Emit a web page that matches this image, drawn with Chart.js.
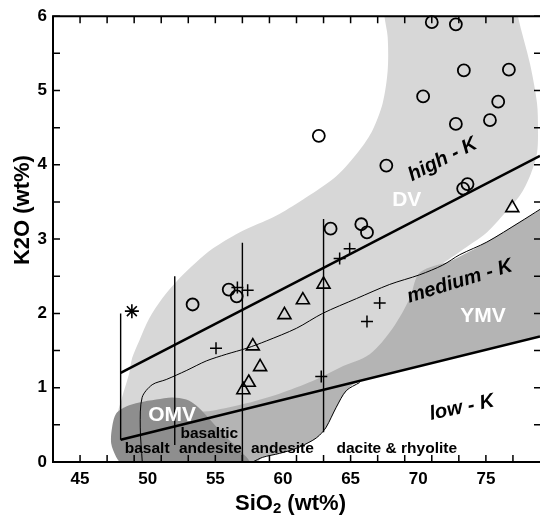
<!DOCTYPE html>
<html><head><meta charset="utf-8">
<script src="https://cdn.jsdelivr.net/npm/chart.js@4.4.1/dist/chart.umd.min.js"></script>
<style>html,body{margin:0;padding:0;background:#fff;overflow:hidden}#wrap{width:540px;height:517px;position:relative}canvas{display:block}</style>
</head><body><div id="wrap"><canvas id="c" width="540" height="517"></canvas></div>
<script>
// ---- tick labels / tick marks ----
const xTickLabels = [45, 50, 55, 60, 65, 70, 75];
const yTickLabels = [0, 1, 2, 3, 4, 5, 6];
const xMinorTicks = [45, 47, 49, 51, 53, 55, 57, 59, 61, 63, 65, 67, 69, 71, 73, 75, 77];
const yMinorTicks = [0, 0.5, 1, 1.5, 2, 2.5, 3, 3.5, 4, 4.5, 5, 5.5, 6];

// ---- samples (SiO2, K2O) ----
const circles = [
  {x:71.0,y:5.92},{x:72.78,y:5.89},{x:73.37,y:5.27},{x:76.7,y:5.28},{x:70.36,y:4.92},
  {x:75.91,y:4.85},{x:75.3,y:4.6},{x:72.78,y:4.55},{x:62.65,y:4.39},{x:67.64,y:3.99},
  {x:73.32,y:3.68},{x:73.64,y:3.74},{x:63.52,y:3.14},{x:65.79,y:3.2},{x:66.21,y:3.09},
  {x:53.32,y:2.12},{x:55.99,y:2.32},{x:56.58,y:2.23}
];
const triangles = [
  {x:76.95,y:3.42},{x:57.77,y:1.56},{x:58.31,y:1.28},{x:57.47,y:1.07},{x:57.07,y:0.97},
  {x:60.11,y:1.98},{x:61.47,y:2.18},{x:63.0,y:2.39}
];
const pluses = [
  {x:55.05,y:1.53},{x:56.63,y:2.35},{x:57.39,y:2.31},{x:67.15,y:2.14},{x:66.21,y:1.89},
  {x:62.83,y:1.15},{x:64.93,y:2.87},{x:64.19,y:2.74}
];
const asterisks = [{x:48.83,y:2.03}];

// ---- classification lines ----
const highKLine = [{x:48,y:1.2},{x:79,y:4.12}];
const lowKLine = [{x:48,y:0.3},{x:79,y:1.69}];
const divisionSiO2 = [48, 52, 57, 63];
const divisionBottom = [0.3, 0.23, 0, 0.4];
const divisionTop = [2.0, 2.5, 2.95, 3.27];

const thinCurve = [
  {x:49.6,y:0},{x:49.45,y:0.47},{x:49.59,y:0.87},{x:50.33,y:1.04},{x:51.37,y:1.11},
  {x:52.85,y:1.23},{x:54.33,y:1.36},{x:55.81,y:1.45},{x:57.3,y:1.53},{x:58.78,y:1.63},
  {x:61.0,y:1.8},{x:62.93,y:2.0},{x:65.44,y:2.2},{x:67.89,y:2.39},{x:70.11,y:2.52},
  {x:71.81,y:2.65},{x:73.07,y:2.79},{x:75.07,y:2.96},{x:77.52,y:3.23},{x:79,y:3.4}
];
const ymvLowerEdge = [
  {x:57.76,y:0.0},{x:58.5,y:0.063},{x:59.74,y:0.116},{x:60.98,y:0.183},{x:62.21,y:0.293},
  {x:62.7,y:0.36},{x:63.2,y:0.47},{x:63.94,y:0.737},{x:64.68,y:0.96},{x:65.67,y:1.07}
];

// ---- fields ----
const dvField = [
  {x:67.4,y:6.3},{x:67.5,y:6.0},{x:67.74,y:5.72},{x:67.74,y:5.27},{x:67.37,y:4.83},
  {x:66.63,y:4.47},{x:65.67,y:4.2},{x:63.96,y:3.85},{x:61.96,y:3.59},{x:59.96,y:3.36},
  {x:59.0,y:3.27},{x:56.78,y:3.09},{x:54.78,y:2.87},{x:53.59,y:2.69},{x:52.33,y:2.47},
  {x:51.07,y:2.2},{x:50.11,y:1.93},{x:49.37,y:1.63},{x:48.85,y:1.4},{x:48.63,y:1.19},
  {x:48.11,y:0.87},{x:47.74,y:0.56},{x:48.5,y:0.35},{x:50.5,y:0.3},{x:53.8,y:0.45},
  {x:54.78,y:0.63},{x:57.3,y:0.72},{x:59.74,y:0.85},{x:62.19,y:1.03},{x:64.19,y:1.2},
  {x:66.41,y:1.41},{x:68.11,y:1.76},{x:69.37,y:2.16},{x:71.37,y:2.6},{x:73.07,y:2.83},
  {x:75.07,y:3.09},{x:76.26,y:3.32},{x:77.52,y:3.59},{x:78.26,y:3.85},{x:78.78,y:4.16},
  {x:78.85,y:4.47},{x:78.78,y:4.83},{x:78.26,y:5.36},{x:77.37,y:6.0},{x:77.2,y:6.3}
];
const ymvField = [
  {x:79.5,y:3.45},{x:77.52,y:3.23},{x:75.07,y:2.96},{x:72.56,y:2.72},{x:70.11,y:2.55},
  {x:69.37,y:2.2},{x:68.11,y:1.8},{x:66.41,y:1.45},{x:64.19,y:1.27},{x:62.19,y:1.09},
  {x:59.74,y:0.92},{x:57.3,y:0.79},{x:54.78,y:0.69},{x:52.33,y:0.63},{x:51.59,y:0.29},
  {x:52.3,y:-0.05},{x:57.7,y:-0.05},{x:58.5,y:0.063},{x:59.74,y:0.116},{x:60.98,y:0.183},
  {x:62.21,y:0.293},{x:62.7,y:0.36},{x:63.2,y:0.47},{x:63.94,y:0.737},{x:64.68,y:0.96},
  {x:65.67,y:1.09},{x:79.5,y:1.71}
];
const omvField = [
  {x:48.04,y:-0.03},{x:47.67,y:0.067},{x:47.3,y:0.253},{x:47.37,y:0.467},{x:47.67,y:0.653},
  {x:48.41,y:0.747},{x:49.37,y:0.8},{x:50.63,y:0.84},{x:51.81,y:0.867},{x:52.85,y:0.84},
  {x:53.59,y:0.76},{x:54.33,y:0.627},{x:55.52,y:0.387},{x:56.56,y:0.2},{x:57.3,y:0.067},
  {x:57.67,y:-0.03}
];

// ---- text annotations (anchored in data units) ----
const annotationText = ['high - K','DV','medium - K','YMV','low - K','OMV','basalt','basaltic','andesite','andesite','dacite & rhyolite'];
const annotationSiO2 = [71.81, 69.15, 73.07, 74.78, 73.22, 51.81, 49.96, 54.56, 54.63, 59.96, 68.41];
const annotationK2O  = [4.07, 3.52, 2.43, 1.96, 0.73, 0.627, 0.173, 0.387, 0.173, 0.173, 0.173];
const annotationKind = ['field','name','field','name','field','name','rock','rock','rock','rock','rock'];
const annotationAngle = [-27, 0, -17, 0, -12, 0, 0, 0, 0, 0, 0];

const FONT = '"Liberation Sans", Arial, Helvetica, sans-serif';

const framePlugin = {
  id: 'frame',
  afterDatasetsDraw(chart) {
    const {ctx, chartArea: a, scales: {x, y}} = chart;
    ctx.save();
    // annotations
    annotationText.forEach((t, i) => {
      const px = x.getPixelForValue(annotationSiO2[i]);
      const py = y.getPixelForValue(annotationK2O[i]);
      const kind = annotationKind[i];
      ctx.save();
      ctx.translate(px, py);
      ctx.rotate(annotationAngle[i] * Math.PI / 180);
      ctx.textAlign = 'center';
      ctx.textBaseline = 'middle';
      if (kind === 'field') { ctx.font = 'italic bold 20px ' + FONT; ctx.fillStyle = '#000'; }
      else if (kind === 'name') { ctx.font = 'bold 21px ' + FONT; ctx.fillStyle = '#fff'; }
      else { ctx.font = 'bold 15.5px ' + FONT; ctx.fillStyle = '#000'; }
      ctx.fillText(t, 0, 0);
      ctx.restore();
    });
    // frame
    ctx.strokeStyle = '#000';
    ctx.lineWidth = 2;
    ctx.beginPath();
    ctx.moveTo(a.left - 1, a.top); ctx.lineTo(a.right + 2, a.top);
    ctx.moveTo(a.left, a.top - 1); ctx.lineTo(a.left, a.bottom + 1);
    ctx.moveTo(a.left - 1, a.bottom); ctx.lineTo(a.right + 2, a.bottom);
    ctx.stroke();
    ctx.lineWidth = 1.5;
    ctx.beginPath();
    xMinorTicks.forEach(v => {
      const px = x.getPixelForValue(v);
      ctx.moveTo(px, a.bottom); ctx.lineTo(px, a.bottom - 7);
      ctx.moveTo(px, a.top); ctx.lineTo(px, a.top + 7);
    });
    yMinorTicks.forEach(v => {
      const py = y.getPixelForValue(v);
      ctx.moveTo(a.left, py); ctx.lineTo(a.left + 7, py);
      ctx.moveTo(a.right, py); ctx.lineTo(a.right - 6, py);
    });
    ctx.stroke();
    // axis titles
    ctx.fillStyle = '#000';
    ctx.textBaseline = 'alphabetic';
    ctx.font = 'bold 22px ' + FONT;
    ctx.save();
    ctx.translate(29, (a.top + a.bottom) / 2 - 29);
    ctx.rotate(-Math.PI / 2);
    ctx.textAlign = 'center';
    ctx.fillText('K2O (wt%)', 0, 0);
    ctx.restore();
    const big = 'bold 22px ' + FONT, small = 'bold 15px ' + FONT;
    ctx.font = big; const w1 = ctx.measureText('SiO').width, w3 = ctx.measureText(' (wt%)').width;
    ctx.font = small; const w2 = ctx.measureText('2').width;
    let sx = (a.left + a.right) / 2 - 6 - (w1 + w2 + w3) / 2;
    const base = a.bottom + 48;
    ctx.textAlign = 'left';
    ctx.font = big; ctx.fillText('SiO', sx, base); sx += w1;
    ctx.font = small; ctx.fillText('2', sx, base + 3); sx += w2;
    ctx.font = big; ctx.fillText(' (wt%)', sx, base);
    ctx.restore();
  }
};

function fieldDs(data, color, order) {
  return {data, showLine: true, fill: 'shape', backgroundColor: color, borderColor: color,
    borderWidth: 0, pointRadius: 0, tension: 0.3, order};
}
function lineDs(data, width, order, tension) {
  return {data, showLine: true, fill: false, borderColor: '#000', borderWidth: width,
    pointRadius: 0, tension: tension || 0, order};
}

const datasets = [
  {data: circles, pointStyle: 'circle', pointRadius: 6, borderColor: '#000', backgroundColor: 'rgba(0,0,0,0)', pointBorderWidth: 1.8, order: 0, clip: false},
  {data: triangles, pointStyle: 'triangle', pointRadius: 7.5, borderColor: '#000', backgroundColor: 'rgba(0,0,0,0)', pointBorderWidth: 1.6, order: 0, clip: false},
  {data: pluses, pointStyle: 'cross', pointRadius: 6, borderColor: '#000', pointBorderWidth: 1.5, order: 0, clip: false},
  {data: asterisks, pointStyle: 'star', pointRadius: 7, borderColor: '#000', pointBorderWidth: 1.6, order: 0, clip: false},
  lineDs(highKLine, 2.6, 2),
  lineDs(lowKLine, 2.6, 2),
  lineDs(thinCurve, 1, 3, 0.3),
  lineDs(ymvLowerEdge, 1, 3, 0.3),
];
divisionSiO2.forEach((s, i) => {
  datasets.push(lineDs([{x: s, y: divisionBottom[i]}, {x: s, y: divisionTop[i]}], 1.4, 3));
});
datasets.push(fieldDs(omvField, '#8e8e8e', 7));
datasets.push(fieldDs(ymvField, '#b4b4b4', 8));
datasets.push(fieldDs(dvField, '#d7d7d7', 9));

new Chart(document.getElementById('c'), {
  type: 'scatter',
  data: {datasets},
  options: {
    responsive: false,
    devicePixelRatio: 1,
    animation: false,
    layout: {autoPadding: false, padding: {top: 12, right: 0, left: 0, bottom: 0}},
    plugins: {legend: {display: false}, tooltip: {enabled: false}},
    scales: {
      x: {
        type: 'linear', min: 43, max: 79,
        afterBuildTicks: s => { s.ticks = xTickLabels.map(v => ({value: v})); },
        afterFit: s => { s.height = 55; },
        ticks: {font: {family: FONT, size: 17, weight: 'bold'}, color: '#000', padding: 7, maxRotation: 0, autoSkip: false},
        grid: {display: false, drawTicks: false},
        border: {display: false}
      },
      y: {
        type: 'linear', min: 0, max: 6,
        afterBuildTicks: s => { s.ticks = yTickLabels.map(v => ({value: v})); },
        afterFit: s => { s.width = 53; },
        ticks: {font: {family: FONT, size: 17, weight: 'bold'}, color: '#000', padding: 6},
        grid: {display: false, drawTicks: false},
        border: {display: false}
      }
    }
  },
  plugins: [framePlugin]
});
</script>
</body></html>
